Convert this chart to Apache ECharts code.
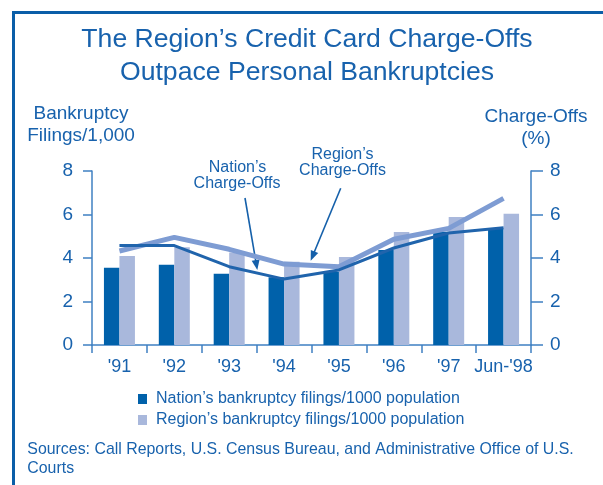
<!DOCTYPE html>
<html><head><meta charset="utf-8">
<script src="https://cdn.jsdelivr.net/npm/echarts@6/dist/echarts.min.js"></script>
<style>html,body{margin:0;padding:0;background:#fff}#c{width:603px;height:485px}</style>
</head><body><div id="c"></div>
<script>
var categories = ["'91", "'92", "'93", "'94", "'95", "'96", "'97", "Jun-'98"];
var nationFilings = [3.55, 3.69, 3.28, 3.11, 3.37, 4.37, 5.21, 5.36];
var regionFilings = [4.09, 4.50, 4.25, 3.83, 4.05, 5.20, 5.89, 6.04];
var nationChargeOffs = [4.57, 4.57, 3.60, 3.03, 3.45, 4.46, 5.15, 5.39];
var regionChargeOffs = [4.32, 4.95, 4.40, 3.72, 3.60, 4.86, 5.36, 6.74];
var yTicks = [0, 2, 4, 6, 8];

var FONT = "'Liberation Sans', Arial, Helvetica, sans-serif";
var TXT = '#1862AD';
var AX = '#3F80C2';

function txt(text, x, y, size, align) {
  return { type: 'text', x: x, y: y, silent: true,
    style: { text: text, fill: TXT, font: size + 'px ' + FONT, textAlign: align || 'center', textVerticalAlign: 'middle' } };
}
function arrow(x1, y1, x2, y2) {
  var dx = x2 - x1, dy = y2 - y1, L = Math.sqrt(dx*dx + dy*dy);
  var ux = dx / L, uy = dy / L, hl = 10, hw = 4;
  var bx = x2 - ux*hl, by = y2 - uy*hl;
  return [
    { type: 'line', silent: true, shape: { x1: x1, y1: y1, x2: bx + ux*2, y2: by + uy*2 }, style: { stroke: '#1560AA', lineWidth: 1.6 } },
    { type: 'polygon', silent: true, shape: { points: [[x2, y2], [bx - uy*hw, by + ux*hw], [bx + uy*hw, by - ux*hw]] }, style: { fill: '#1560AA' } }
  ];
}

var chart = echarts.init(document.getElementById('c'), null, { renderer: 'canvas' });
var graphics = [
  { type: 'line', silent: true, shape: { x1: 13.5, y1: 12, x2: 13.5, y2: 485 }, style: { stroke: '#0A5EA8', lineWidth: 3 } },
  { type: 'line', silent: true, shape: { x1: 12, y1: 12.5, x2: 603, y2: 12.5 }, style: { stroke: '#0A5EA8', lineWidth: 3 } },
  txt('The Region\u2019s Credit Card Charge-Offs', 307, 39.7, 26.6),
  txt('Outpace Personal Bankruptcies', 307, 73.1, 26.6),
  txt('Bankruptcy', 81, 113.7, 19),
  txt('Filings/1,000', 81, 135.4, 19),
  txt('Charge-Offs', 536, 117, 19),
  txt('(%)', 536, 139, 19),
  txt('Nation\u2019s', 237.5, 168, 16),
  txt('Charge-Offs', 237, 184, 16),
  txt('Region\u2019s', 342.5, 154.7, 16),
  txt('Charge-Offs', 342.5, 170.2, 16),
  txt('Sources: Call Reports, U.S. Census Bureau, and Administrative Office of U.S.', 27.3, 449.9, 15.9, 'left'),
  txt('Courts', 27.3, 468.2, 15.9, 'left')
].concat(arrow(245, 198, 257.3, 270)).concat(arrow(340.7, 188.3, 310.7, 260.7));

chart.setOption({
  animation: false,
  textStyle: { fontFamily: FONT },
  grid: { left: 92, right: 72, top: 171, bottom: 140, containLabel: false },
  legend: {
    orient: 'vertical', left: 138, top: 391, padding: 0, itemWidth: 9, itemHeight: 10, itemGap: 5,
    icon: 'rect', selectedMode: false,
    textStyle: { color: TXT, fontSize: 16, lineHeight: 16, fontFamily: FONT, padding: [0, 0, 0, 4] },
    data: ['Nation\u2019s bankruptcy filings/1000 population', 'Region\u2019s bankruptcy filings/1000 population']
  },
  xAxis: {
    type: 'category', data: categories, boundaryGap: true,
    axisLine: { lineStyle: { color: AX, width: 1.5 } },
    axisTick: { show: true, length: 8, lineStyle: { color: AX, width: 1.5 } },
    axisLabel: { color: TXT, fontSize: 18, margin: 13, interval: 0, fontFamily: FONT }
  },
  yAxis: [
    { type: 'value', min: 0, max: 8, interval: 2, position: 'left',
      axisLine: { show: true, lineStyle: { color: AX, width: 1.5 } },
      axisTick: { show: true, length: 9, lineStyle: { color: AX, width: 1.5 } },
      axisLabel: { color: TXT, fontSize: 19, margin: 19, fontFamily: FONT, formatter: function (v) { return yTicks.indexOf(v) >= 0 ? String(v) : ''; } },
      splitLine: { show: false } },
    { type: 'value', min: 0, max: 8, interval: 2, position: 'right',
      axisLine: { show: true, lineStyle: { color: AX, width: 1.5 } },
      axisTick: { show: true, length: 12, lineStyle: { color: AX, width: 1.5 } },
      axisLabel: { color: TXT, fontSize: 19, margin: 19, fontFamily: FONT, formatter: function (v) { return yTicks.indexOf(v) >= 0 ? String(v) : ''; } },
      splitLine: { show: false } }
  ],
  series: [
    { name: 'Nation\u2019s bankruptcy filings/1000 population', type: 'bar', data: nationFilings, barWidth: 15.5, barGap: '0%', itemStyle: { color: '#0061AA' }, z: 2 },
    { name: 'Region\u2019s bankruptcy filings/1000 population', type: 'bar', data: regionFilings, barWidth: 15.5, barGap: '0%', itemStyle: { color: '#A9B8DC' }, z: 2 },
    { name: 'Region charge-offs', type: 'line', yAxisIndex: 1, data: regionChargeOffs, symbol: 'none', lineStyle: { color: '#7E9CD3', width: 5 }, z: 4 },
    { name: 'Nation charge-offs', type: 'line', yAxisIndex: 1, data: nationChargeOffs, symbol: 'none', lineStyle: { color: '#2064AC', width: 3 }, z: 5 }
  ],
  graphic: graphics
});
</script></body></html>
